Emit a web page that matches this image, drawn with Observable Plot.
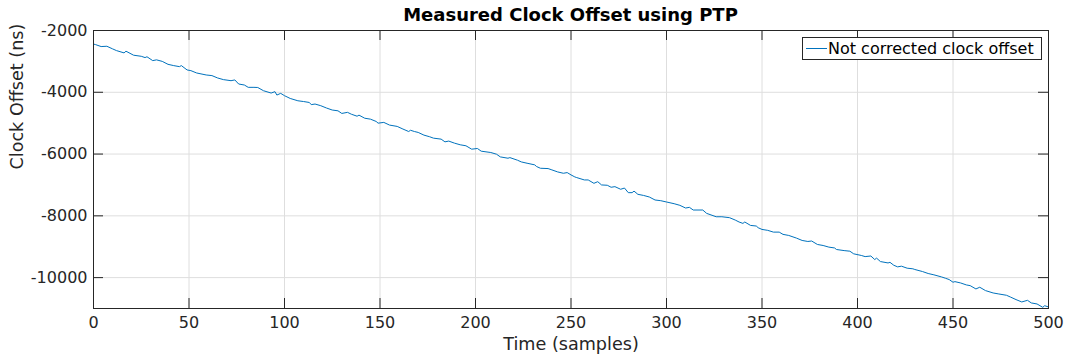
<!DOCTYPE html>
<html>
<head>
<meta charset="utf-8">
<script src="https://cdn.jsdelivr.net/npm/d3@7"></script>
<script src="https://cdn.jsdelivr.net/npm/@observablehq/plot@0.6"></script>
<style>
  html, body { margin: 0; padding: 0; background: #fff; }
  #wrap { position: relative; width: 1066px; height: 358px; font-family: "DejaVu Sans", sans-serif; color: #262626; }
  #title { position: absolute; left: 93px; width: 955px; top: 6px; text-align: center; font-weight: bold; font-size: 18px; line-height: 18px; color: #000; }
  #legend { position: absolute; left: 802px; top: 37px; width: 238px; height: 21px; border: 1px solid #262626; background: #fff; display: flex; align-items: center; }
  #legend .sw { width: 21px; height: 0; border-top: 1px solid #0072BD; margin-left: 3px; margin-right: 1px; }
  #legend .lb { font-size: 16px; line-height: 16px; color: #000; white-space: nowrap; }
</style>
</head>
<body>
<div id="wrap">
  <div id="chart"></div>
  <div id="title">Measured Clock Offset using PTP</div>
  <div id="legend"><div class="sw"></div><div class="lb">Not corrected clock offset</div></div>
</div>
<script>
const seriesName = "Not corrected clock offset";
const titleText = "Measured Clock Offset using PTP";
const xLabel = "Time (samples)";
const yLabel = "Clock Offset (ns)";
const xTicks = [0, 50, 100, 150, 200, 250, 300, 350, 400, 450, 500];
const yTicks = [-10000, -8000, -6000, -4000, -2000];

const timeSamples = [0,1,4,7,10,12,16,17,21,25,27,28,31,33,36,39,42,45,46,49,51,54,59,62,65,68,72,74,76,79,81,84,86,89,93,95,96,98,100,103,107,110,113,114,116,119,122,125,128,130,133,135,138,139,142,145,148,149,152,155,159,162,165,166,168,170,173,176,178,182,184,186,189,192,195,198,201,203,208,211,213,217,218,222,224,227,231,232,234,238,240,243,246,248,250,252,253,257,259,262,264,266,269,271,273,276,278,280,282,283,285,288,291,294,297,300,304,307,310,312,314,319,321,326,329,333,336,338,340,341,344,347,348,350,353,356,359,361,364,368,371,374,376,379,382,385,388,389,393,396,398,402,404,407,409,410,412,416,417,419,421,423,426,429,430,434,437,440,444,446,448,450,451,454,457,459,462,464,467,471,474,478,480,483,486,489,491,494,497,498,500];
const offsetNs = [-2440,-2455,-2520,-2510,-2595,-2650,-2725,-2670,-2800,-2835,-2877,-2850,-2975,-2950,-3000,-3095,-3137,-3170,-3137,-3277,-3300,-3375,-3440,-3460,-3537,-3590,-3625,-3600,-3732,-3765,-3840,-3840,-3845,-3950,-4025,-3980,-4090,-4035,-4110,-4200,-4275,-4300,-4330,-4400,-4380,-4435,-4510,-4575,-4600,-4685,-4650,-4710,-4775,-4740,-4840,-4870,-4945,-5000,-4975,-5062,-5105,-5190,-5270,-5230,-5270,-5300,-5387,-5440,-5485,-5517,-5605,-5580,-5647,-5700,-5732,-5842,-5820,-5907,-5950,-6005,-6092,-6135,-6115,-6200,-6255,-6297,-6350,-6405,-6460,-6470,-6513,-6578,-6622,-6600,-6675,-6740,-6762,-6838,-6838,-6947,-6895,-7000,-7010,-7075,-7055,-7140,-7100,-7250,-7250,-7200,-7303,-7340,-7390,-7487,-7510,-7552,-7607,-7660,-7747,-7725,-7812,-7812,-7920,-8030,-8030,-8060,-8137,-8200,-8245,-8200,-8310,-8330,-8385,-8440,-8470,-8527,-8527,-8600,-8635,-8720,-8797,-8830,-8815,-8927,-8960,-9013,-9040,-9090,-9125,-9145,-9230,-9283,-9320,-9300,-9415,-9370,-9480,-9525,-9505,-9600,-9652,-9630,-9695,-9715,-9737,-9803,-9867,-9910,-9978,-10020,-10063,-10150,-10130,-10173,-10237,-10260,-10367,-10312,-10420,-10497,-10530,-10572,-10627,-10712,-10788,-10735,-10820,-10853,-10962,-10910,-10950];

const data = timeSamples.map((t, i) => ({t, v: offsetNs[i]}));

const W = 1066, H = 358;
const mL = 93, mR = 18, mT = 30, mB = 50;
const xDom = [0, 500], yDom = [-11000, -2000];
const tickPx = 10;
const xTickLen = tickPx * (xDom[1] - xDom[0]) / (W - mL - mR);
const yTickLen = tickPx * (yDom[1] - yDom[0]) / (H - mT - mB);
const axisColor = "#262626";
const gridColor = "#dedede";

const chart = Plot.plot({
  width: W,
  height: H,
  marginLeft: mL,
  marginRight: mR,
  marginTop: mT,
  marginBottom: mB,
  style: {fontFamily: "DejaVu Sans, sans-serif", fontSize: "16px", color: axisColor, background: "#fff"},
  x: {domain: xDom, label: null},
  y: {domain: yDom, label: null},
  marks: [
    Plot.gridX(xTicks, {stroke: gridColor, strokeOpacity: 1}),
    Plot.gridY(yTicks, {stroke: gridColor, strokeOpacity: 1}),
    Plot.line(data, {x: "t", y: "v", stroke: "#0072BD", strokeWidth: 1}),
    Plot.ruleY(yTicks, {x1: xDom[0], x2: xDom[0] + xTickLen, stroke: axisColor}),
    Plot.ruleY(yTicks, {x1: xDom[1] - xTickLen, x2: xDom[1], stroke: axisColor}),
    Plot.ruleX(xTicks, {y1: yDom[0], y2: yDom[0] + yTickLen, stroke: axisColor}),
    Plot.ruleX(xTicks, {y1: yDom[1] - yTickLen, y2: yDom[1], stroke: axisColor}),
    Plot.frame({stroke: axisColor, strokeWidth: 1}),
    Plot.axisX(xTicks, {tickSize: 0, tickPadding: 8, fontSize: 16, label: null, color: axisColor}),
    Plot.axisY(yTicks, {tickSize: 0, tickPadding: 6, fontSize: 16, label: null, color: axisColor, tickFormat: d => String(d)}),
    Plot.text([xLabel], {frameAnchor: "bottom", dy: 41, fontSize: 17.6, fill: axisColor}),
    Plot.text([yLabel], {frameAnchor: "left", dx: -76, rotate: -90, fontSize: 17.6, fill: axisColor})
  ]
});
document.getElementById("chart").appendChild(chart);
document.getElementById("title").textContent = titleText;
document.querySelector("#legend .lb").textContent = seriesName;
</script>
</body>
</html>
